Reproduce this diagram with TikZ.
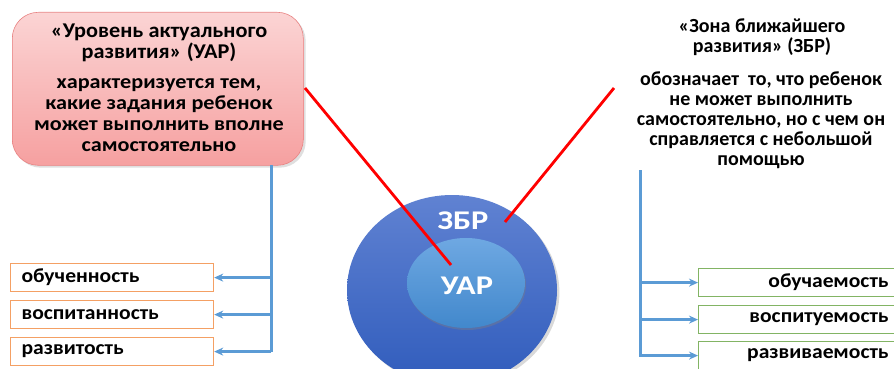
\documentclass[tikz,border=0pt]{standalone}
\usepackage{fontspec}
\setmainfont{Carlito}
\newfontfamily\wideT[FakeStretch=1.06]{Carlito}
\newfontfamily\wideB[FakeStretch=1.11]{Carlito}
\newfontfamily\wideR[FakeStretch=1.08]{Carlito}
\newfontfamily\wideE[FakeStretch=1.2]{Carlito}
\usetikzlibrary{arrows.meta,shadows,shapes.geometric}
\definecolor{pinkA}{RGB}{251,212,212}
\definecolor{pinkB}{RGB}{246,160,160}
\definecolor{pinkE}{RGB}{232,130,130}
\definecolor{bigA}{RGB}{96,130,210}
\definecolor{bigB}{RGB}{48,92,188}
\definecolor{inA}{RGB}{110,168,226}
\definecolor{inB}{RGB}{66,136,204}
\definecolor{lblue}{RGB}{91,155,213}
\definecolor{obord}{RGB}{244,160,100}
\definecolor{gbord}{RGB}{130,180,100}
\definecolor{redl}{RGB}{255,0,0}
\tikzset{
  ltitle/.style={font=\wideT\fontsize{21}{20.5}\selectfont\bfseries, align=center, text=black},
  lbody/.style={font=\wideB\fontsize{20}{21}\selectfont\bfseries, align=center, text=black},
  rtxt/.style={font=\fontsize{20}{20}\selectfont\bfseries, align=center, text=black},
  leftbox/.style={draw=obord, line width=1.2pt, minimum width=203pt, minimum height=28pt, anchor=north west, inner sep=0pt, font=\wideR\fontsize{20}{20}\selectfont\bfseries, text width=181pt, align=left},
  rightbox/.style={draw=gbord, line width=1.2pt, minimum width=200pt, minimum height=28pt, anchor=north west, inner sep=0pt, font=\wideR\fontsize{20}{20}\selectfont\bfseries, text width=180pt, align=right},
  circtxt/.style={font=\wideE\fontsize{27}{27}\selectfont\bfseries, text=white},
  bluel/.style={draw=lblue, line width=3pt},
  bluearr/.style={draw=lblue, line width=2.5pt, -{Stealth[length=9pt,width=8pt]}},
  redline/.style={draw=redl, line width=2.8pt},
}
\begin{document}
\begin{tikzpicture}[x=1pt,y=-1pt]
\useasboundingbox (0,0) rectangle (894,369);
% big ellipse
\begin{scope}
\clip (0,0) rectangle (894,369);
\node[ellipse, minimum width=210pt, minimum height=190pt, top color=bigA, bottom color=bigB, inner sep=0pt, drop shadow={opacity=0.3}] (zbr) at (452,290) {};
\end{scope}
\node[ellipse, minimum width=118pt, minimum height=90pt, top color=inA, bottom color=inB, inner sep=0pt, drop shadow={opacity=0.4,shadow xshift=1pt,shadow yshift=-2pt}] (uarE) at (466,283) {};
\node[circtxt] (zbrT) at (463,221) {ЗБР};
\node[circtxt] (uarT) at (467,286) {УАР};
% pink box
\node[draw=pinkE, line width=0.6pt, rounded corners=26pt, top color=pinkA, bottom color=pinkB, minimum width=291pt, minimum height=153pt, anchor=north west, inner sep=0pt, drop shadow={opacity=0.25}] (uar) at (12,12) {};
\node[ltitle] (uarTitle) at (159,43) {«Уровень актуального\\развития» (УАР)};
\node[lbody] (uarBody) at (159,115.5) {характеризуется тем,\\какие задания ребенок\\может выполнить вполне\\самостоятельно};
% right text
\node[rtxt] (zbrTitle) at (762,37) {«Зона ближайшего\\развития» (ЗБР)};
\node[rtxt] (zbrBody) at (761,120) {обозначает\ \ то, что ребенок\\не может выполнить\\самостоятельно, но с чем он\\справляется с небольшой\\помощью};
% red lines
\coordinate (r1s) at (305,88);
\coordinate (r1e) at (451,265);
\coordinate (r2s) at (614,88);
\coordinate (r2e) at (505,222);
\draw[redline] (r1s) -- (r1e);
\draw[redline] (r2s) -- (r2e);
% left boxes
\node[leftbox] (l1) at (10,263) {обученность};
\node[leftbox] (l2) at (10,300) {воспитанность};
\node[leftbox] (l3) at (10,337) {развитость};
\coordinate (lt) at (271,165);
\coordinate (lb) at (271,352);
\draw[bluel] (lt) -- (lb);
\draw[bluearr] (l1.east -| lt) -- (l1.east);
\draw[bluearr] (l2.east -| lt) -- (l2.east);
\draw[bluearr] (l3.east -| lt) -- (l3.east);
% right boxes
\node[rightbox] (r1) at (698,268) {обучаемость};
\node[rightbox] (r2) at (698,305) {воспитуемость};
\node[rightbox] (r3) at (698,341) {развиваемость};
\coordinate (rt) at (640,170);
\coordinate (rb) at (640,357);
\draw[bluel] (rt) -- (rb);
\draw[bluearr] (r1.west -| rt) -- (r1.west);
\draw[bluearr] (r2.west -| rt) -- (r2.west);
\draw[bluearr] (r3.west -| rt) -- (r3.west);
\end{tikzpicture}
\end{document}
